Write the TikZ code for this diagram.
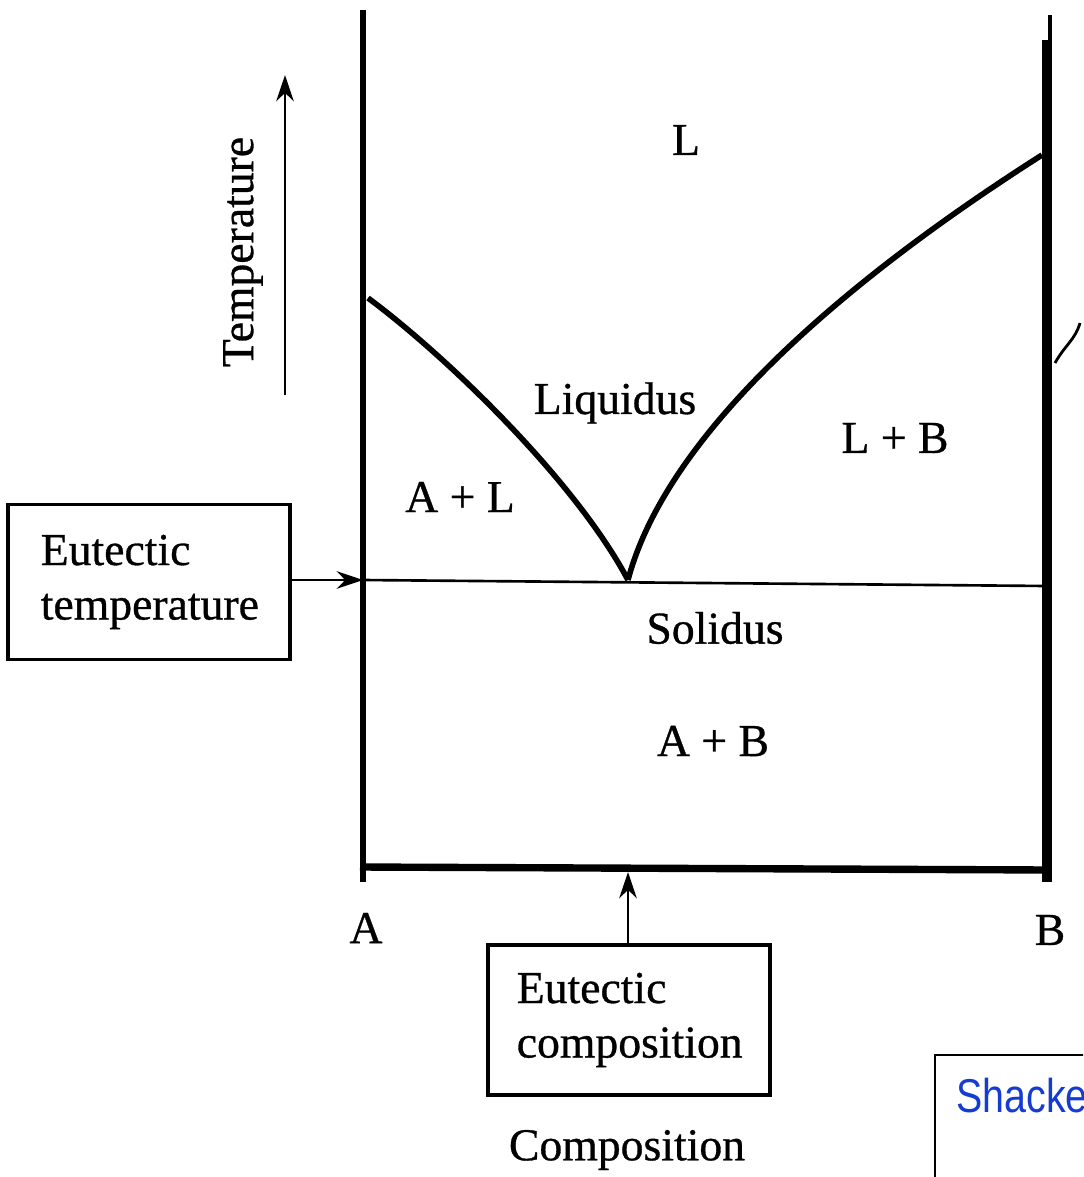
\documentclass[tikz,border=0pt]{standalone}
\usepackage{fontspec}
\setmainfont{Liberation Serif}
\newfontfamily\scanfont[FakeBold=0.7]{Liberation Serif}
\newfontfamily\sansf{Liberation Sans}
\usetikzlibrary{arrows.meta}
\definecolor{linkblue}{RGB}{20,60,210}
\tikzset{
  lbl/.style={font=\scanfont\fontsize{26}{30}\selectfont, inner sep=0pt},
  callout/.style={draw, line width=1.8pt, minimum width=282*0.02cm, inner sep=0pt},
  callouttext/.style={anchor=west, font=\scanfont\fontsize{26}{31}\selectfont, align=left, inner sep=0pt},
  curveline/.style={line width=3.2pt},
  pointer/.style={line width=1.5pt, -{Stealth[length=15pt,width=10pt]}}
}
\begin{document}
\begin{tikzpicture}[x=0.02cm,y=-0.02cm]
\useasboundingbox (0,0) rectangle (1083,1177);
% frame lines
\coordinate (Atop) at (363,10);
\coordinate (Abot) at (363,882);
\coordinate (Btop) at (1047,40);
\coordinate (Bbot) at (1047,882);
\draw[line width=3.4pt] (Atop) -- (Abot);
\draw[line width=5.4pt] (Btop) -- (Bbot);
\draw[line width=2pt] (1050,15) -- (1050,40);
\draw[line width=4.2pt] (360,867) -- (1050,870);
% eutectic line
\coordinate (E) at (628,580);
\coordinate (Eleft) at (363,580);
\coordinate (Eright) at (1047,586);
\draw[line width=1.5pt] (Eleft) -- (Eright);
% liquidus curves
\draw[curveline] (368,298) .. controls (445,355) and (575,480) .. (E);
\draw[curveline] (E) .. controls (665,440) and (830,290) .. (1042,155);
\draw[line width=1.6pt] (1055,363) .. controls (1065,345) and (1075,340) .. (1080,323);
% temperature arrow
\coordinate (Tlow) at (285,395);
\coordinate (Thigh) at (285,75);
\draw[pointer] (Tlow) -- (Thigh);
\node[lbl, rotate=90] (temp) at (243,252) {Temperature};
% labels
\node[lbl] (L) at (686,140) {L};
\node[lbl] (liq) at (615,403) {Liquidus};
\node[lbl] (LB) at (895,438) {L + B};
\node[lbl] (AL) at (460,497) {A + L};
\node[lbl] (sol) at (715,628) {Solidus};
\node[lbl] (AB) at (713,741) {A + B};
\node[lbl] (A) at (366,928) {A};
\node[lbl] (B) at (1050,930) {B};
\node[lbl] (comp) at (627,1150) {Composition};
% callout boxes
\node[callout, minimum height=155*0.02cm] (ET) at (149,582) {};
\node[callouttext] (ETt) at ([xshift=34*0.02cm]ET.west) {Eutectic\\temperature};
\node[callout, minimum height=150*0.02cm] (EC) at (629,1020) {};
\node[callouttext] (ECt) at ([xshift=30*0.02cm]EC.west) {Eutectic\\composition};
\draw[pointer] (ET.east |- Eleft) -- (Eleft);
\coordinate (Ebot) at (628,872);
\draw[pointer] (EC.north -| Ebot) -- (Ebot);
% clipped reference box
\begin{scope}
\clip (0,0) rectangle (1083,1177);
\draw[line width=1.2pt] (1090,1055) -- (935,1055) -- (935,1185);
\node[anchor=base west, text=linkblue, font=\sansf\fontsize{27}{30}\selectfont, inner sep=0pt] (shack) at (956,1112) {\scalebox{0.83}[1]{Shackelford}};
\end{scope}
\end{tikzpicture}
\end{document}
